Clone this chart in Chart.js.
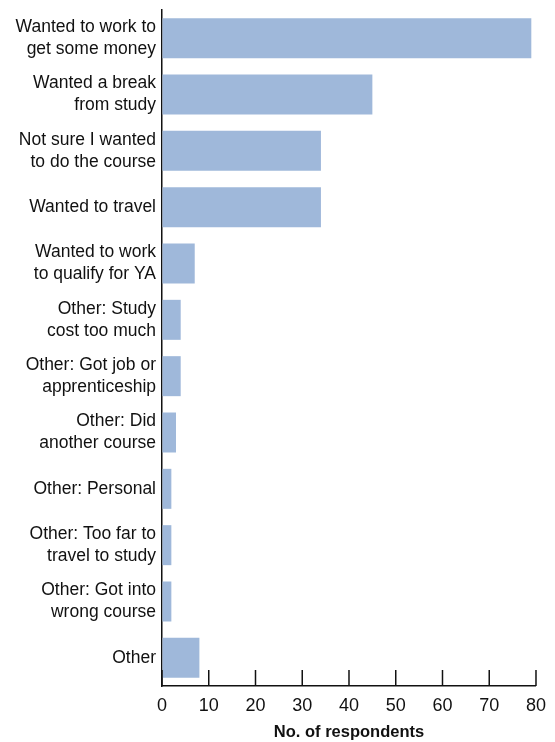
<!DOCTYPE html>
<html>
<head>
<meta charset="utf-8">
<script src="https://cdn.jsdelivr.net/npm/chart.js@4"></script>
<style>
  html, body { margin: 0; padding: 0; background: #fff; }
  #wrap { width: 555px; height: 742px; }
</style>
</head>
<body>
<div id="wrap"><canvas id="chart" width="555" height="742"></canvas></div>
<script>
const reasons = [
  ['Wanted to work to', 'get some money'],
  ['Wanted a break', 'from study'],
  ['Not sure I wanted', 'to do the course'],
  'Wanted to travel',
  ['Wanted to work', 'to qualify for YA'],
  ['Other: Study', 'cost too much'],
  ['Other: Got job or', 'apprenticeship'],
  ['Other: Did', 'another course'],
  'Other: Personal',
  ['Other: Too far to', 'travel to study'],
  ['Other: Got into', 'wrong course'],
  'Other'
];
const respondents = [79, 45, 34, 34, 7, 4, 4, 3, 2, 2, 2, 8];
const xTicks = [0, 10, 20, 30, 40, 50, 60, 70, 80];

const FONT = "'Liberation Sans', Arial, sans-serif";

// tick marks point up into the plot, so draw them ourselves
const upTicks = {
  id: 'upTicks',
  afterDraw(chart) {
    const x = chart.scales.x;
    const ctx = chart.ctx;
    const y0 = x.top;
    ctx.save();
    ctx.strokeStyle = '#111';
    ctx.lineWidth = 1.5;
    xTicks.forEach(v => {
      const px = x.getPixelForValue(v);
      ctx.beginPath();
      ctx.moveTo(px, y0);
      ctx.lineTo(px, y0 - 16);
      ctx.stroke();
    });
    ctx.restore();
  }
};

new Chart(document.getElementById('chart').getContext('2d'), {
  type: 'bar',
  data: {
    labels: reasons,
    datasets: [{
      data: respondents,
      backgroundColor: '#9fb8da',
      borderWidth: 0,
      categoryPercentage: 1,
      barPercentage: 0.71
    }]
  },
  options: {
    indexAxis: 'y',
    responsive: false,
    animation: false,
    layout: { padding: { top: 10, right: 18, left: 0, bottom: 0 } },
    plugins: { legend: { display: false }, tooltip: { enabled: false } },
    scales: {
      x: {
        min: 0,
        max: 80,
        afterBuildTicks: s => { s.ticks = xTicks.map(v => ({ value: v })); },
        afterFit: s => { s.height = 56; },
        grid: { display: true, drawOnChartArea: false, drawTicks: false },
        border: { display: true, color: '#111', width: 1.5 },
        ticks: {
          padding: 9,
          color: '#111',
          font: { family: FONT, size: 18 },
          maxRotation: 0
        },
        title: {
          display: true,
          text: 'No. of respondents',
          color: '#111',
          font: { family: FONT, size: 16.5, weight: 'bold' },
          padding: { top: 0, bottom: 0 }
        }
      },
      y: {
        afterFit: s => {
          s.width = 162;
          s.paddingTop = 0;
          s.paddingBottom = 0;
        },
        grid: { display: true, drawOnChartArea: false, drawTicks: false },
        border: { display: true, color: '#111', width: 1.5 },
        ticks: {
          padding: 6,
          color: '#111',
          font: { family: FONT, size: 17.5, lineHeight: 1.25 },
          autoSkip: false
        }
      }
    }
  },
  plugins: [upTicks]
});
</script>
</body>
</html>
